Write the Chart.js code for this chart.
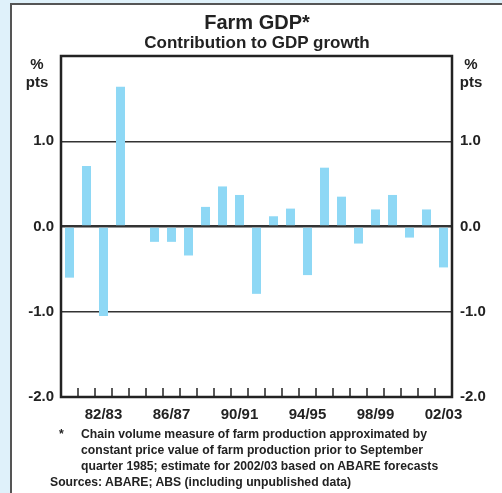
<!DOCTYPE html>
<html>
<head>
<meta charset="utf-8">
<script src="https://cdn.jsdelivr.net/npm/chart.js@4/dist/chart.umd.min.js"></script>
<style>
html, body { margin: 0; padding: 0; }
body {
    width: 502px; height: 493px; overflow: hidden; position: relative;
    background: #dff1fa;
    font-family: "Liberation Sans", Arial, sans-serif; font-weight: bold; color: #222;
}
#panel {
    position: absolute; left: 10px; top: 3px; width: 530px; height: 530px;
    background: #fff; border: 2px solid #555; box-sizing: border-box;
}
#wrap { position: absolute; left: 0; top: 0; width: 502px; height: 493px; }
.txt { position: absolute; white-space: nowrap; }
#title { left: 0; width: 514px; top: 11px; text-align: center; font-size: 20px; }
#subtitle { left: 0; width: 514px; top: 33px; text-align: center; font-size: 17px; }
.unit { font-size: 15px; text-align: center; line-height: 18px; }
#note { left: 50px; top: 426px; font-size: 12.2px; line-height: 16px; }
#note .star { display: inline-block; width: 31px; padding-left: 9px; box-sizing: border-box; }
#note .ind { padding-left: 31px; }
</style>
</head>
<body>
<div id="panel"></div>
<div id="wrap"><canvas id="myChart"></canvas></div>
<div class="txt" id="title">Farm GDP*</div>
<div class="txt" id="subtitle">Contribution to GDP growth</div>
<div class="txt unit" style="left:22px; top:55px; width:30px;">%<br>pts</div>
<div class="txt unit" style="left:456px; top:55px; width:30px;">%<br>pts</div>
<div class="txt" id="note">
<div><span class="star">*</span>Chain volume measure of farm production approximated by</div>
<div class="ind">constant price value of farm production prior to September</div>
<div class="ind">quarter 1985; estimate for 2002/03 based on ABARE forecasts</div>
<div>Sources: ABARE; ABS (including unpublished data)</div>
</div>
<script>
// 財政年度
const years = ['80/81', '81/82', '82/83', '83/84', '84/85', '85/86', '86/87', '87/88',
    '88/89', '89/90', '90/91', '91/92', '92/93', '93/94', '94/95', '95/96',
    '96/97', '97/98', '98/99', '99/00', '00/01', '01/02', '02/03'];

// 對 GDP 成長的貢獻（百分點）
const farmContribution = [-0.60, 0.71, -1.05, 1.64, 0.0, -0.18, -0.18, -0.34,
    0.23, 0.47, 0.37, -0.79, 0.12, 0.21, -0.57, 0.69,
    0.35, -0.20, 0.20, 0.37, -0.13, 0.20, -0.48];

// 顯示的 x 軸標籤
const shownYears = ['82/83', '86/87', '90/91', '94/95', '98/99', '02/03'];

const tickFont = { family: '"Liberation Sans", Arial, sans-serif', size: 15, weight: 'bold' };

function yLabel(v) {
    return v === 2 ? '' : v.toFixed(1);
}

// 外框與 x 軸內側刻度
const framePlugin = {
    id: 'frame',
    afterDraw(chart) {
        const ctx = chart.ctx;
        const a = chart.chartArea;
        const x = chart.scales.x;
        ctx.save();
        ctx.strokeStyle = '#222';
        ctx.lineWidth = 1.5;
        for (let i = 1; i < years.length; i++) {
            const px = x.getPixelForValue(i - 0.5);
            ctx.beginPath();
            ctx.moveTo(px, a.bottom);
            ctx.lineTo(px, a.bottom - 9);
            ctx.stroke();
        }
        ctx.lineWidth = 2.5;
        ctx.strokeRect(a.left, a.top, a.right - a.left, a.bottom - a.top);
        ctx.restore();
    }
};

const ctx = document.getElementById('myChart').getContext('2d');
const myChart = new Chart(ctx, {
    type: 'bar',
    data: {
        labels: years,
        datasets: [{
            label: 'Farm GDP',
            data: farmContribution,
            backgroundColor: '#8ed8f5',
            borderWidth: 0,
            barPercentage: 0.53,
            categoryPercentage: 1.0
        }]
    },
    options: {
        responsive: true,
        maintainAspectRatio: false,
        animation: false,
        layout: { padding: { left: 0, right: 0, top: 56, bottom: 46 } },
        plugins: { legend: { display: false }, title: { display: false }, tooltip: { enabled: false } },
        scales: {
            x: {
                offset: true,
                grid: { display: false },
                border: { display: false },
                ticks: {
                    autoSkip: false, maxRotation: 0, minRotation: 0, padding: 1,
                    color: '#222', font: tickFont,
                    callback: function (v, i) { return shownYears.includes(years[i]) ? years[i] : ''; }
                },
                afterFit(s) { s.height = 50; }
            },
            y: {
                position: 'left', min: -2, max: 2,
                border: { display: false },
                grid: {
                    drawTicks: false,
                    color: c => (Math.abs(c.tick.value) === 2 ? 'rgba(0,0,0,0)' : '#333'),
                    lineWidth: c => (c.tick.value === 0 ? 2.5 : 1.5)
                },
                ticks: { stepSize: 1, padding: 7, color: '#222', font: tickFont, callback: yLabel },
                afterFit(s) { s.width = 61; }
            },
            y2: {
                position: 'right', min: -2, max: 2,
                border: { display: false },
                grid: { drawOnChartArea: false, drawTicks: false },
                ticks: { stepSize: 1, padding: 8, color: '#222', font: tickFont, callback: yLabel },
                afterFit(s) { s.width = 50; }
            }
        }
    },
    plugins: [framePlugin]
});
</script>
</body>
</html>
